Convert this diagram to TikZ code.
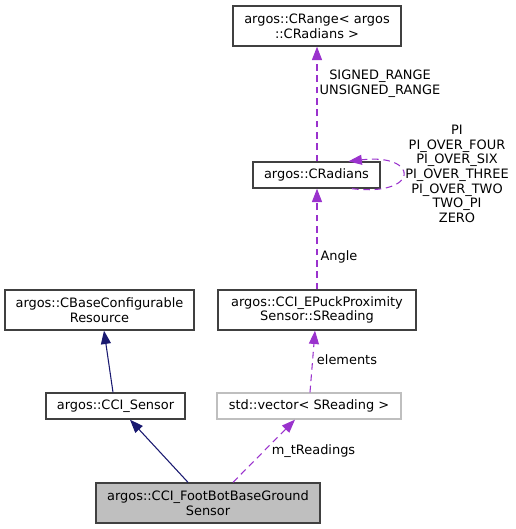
\documentclass[tikz,border=0pt]{standalone}
\usepackage{fontspec}
\setmainfont{DejaVu Sans}
\usetikzlibrary{arrows.meta,calc}
\definecolor{boxborder}{HTML}{404040}
\definecolor{lightborder}{HTML}{BFBFBF}
\definecolor{grayfill}{HTML}{BFBFBF}
\definecolor{navyedge}{HTML}{191970}
\definecolor{purpleedge}{HTML}{9A32CD}
\tikzset{
  px/.style={x=0.75pt,y=-0.75pt},
  cls/.style={draw=boxborder,line width=1pt,inner sep=0pt,align=center,
    font=\fontsize{9.7pt}{11pt}\selectfont,text=black},
  inh/.style={draw=navyedge,line width=0.8pt,
    -{Triangle[length=10pt,width=7.5pt]},color=navyedge},
  usage/.style={draw=purpleedge,line width=0.8pt,dash pattern=on 5pt off 3.5pt,
    -{Triangle[length=10pt,width=7.5pt]},color=purpleedge},
  lbl/.style={inner sep=0pt,align=center,font=\fontsize{9.7pt}{11pt}\selectfont,text=black}
}
\begin{document}
\begin{tikzpicture}[px]
\useasboundingbox (0,0) rectangle (515,529);
\node[cls,minimum width=168*0.75pt,minimum height=40*0.75pt] (crange) at (317,26) {argos::CRange\textless{} argos\\::CRadians \textgreater};
\node[cls,minimum width=127*0.75pt,minimum height=26*0.75pt] (crad) at (316.5,175) {argos::CRadians};
\node[cls,minimum width=189*0.75pt,minimum height=40*0.75pt] (cbase) at (99.5,310) {argos::CBaseConfigurable\\Resource};
\node[cls,minimum width=198*0.75pt,minimum height=40*0.75pt] (epuck) at (317,310) {argos::CCI\_EPuckProximity\\Sensor::SReading};
\node[cls,minimum width=139*0.75pt,minimum height=26*0.75pt] (csensor) at (115.5,406) {argos::CCI\_Sensor};
\node[cls,draw=lightborder,minimum width=184*0.75pt,minimum height=26*0.75pt] (vec) at (309,406) {std::vector\textless{} SReading \textgreater};
\node[cls,fill=grayfill,minimum width=224*0.75pt,minimum height=40*0.75pt] (foot) at (208,503) {argos::CCI\_FootBotBaseGround\\Sensor};

\draw[inh] ([xshift=-2.5*0.75pt]csensor.north) -- ([xshift=4.5*0.75pt]cbase.south);
\draw[inh] ([xshift=-20*0.75pt]foot.north) -- ([xshift=14.5*0.75pt]csensor.south);
\draw[usage] ([xshift=25*0.75pt]foot.north) -- ([xshift=-14*0.75pt]vec.south);
\draw[usage] ([xshift=1*0.75pt]vec.north) -- ([xshift=-2*0.75pt]epuck.south);
\draw[usage] (epuck.north) -- ([xshift=0.5*0.75pt]crad.south);
\draw[usage] ([xshift=0.5*0.75pt]crad.north) -- (crange.south);
\draw[usage] ([xshift=35.5*0.75pt]crad.south) .. controls (420,197) and (420,153) .. ([xshift=32*0.75pt]crad.north);

\node[lbl] (lrange) at (380,84) {SIGNED\_RANGE\\UNSIGNED\_RANGE};
\node[lbl] (lpi) at (457,174) {PI\\PI\_OVER\_FOUR\\PI\_OVER\_SIX\\PI\_OVER\_THREE\\PI\_OVER\_TWO\\TWO\_PI\\ZERO};
\node[lbl] (langle) at (339,257) {Angle};
\node[lbl] (lelem) at (347,360) {elements};
\node[lbl] (lread) at (313.5,451) {m\_tReadings};
\end{tikzpicture}
\end{document}
